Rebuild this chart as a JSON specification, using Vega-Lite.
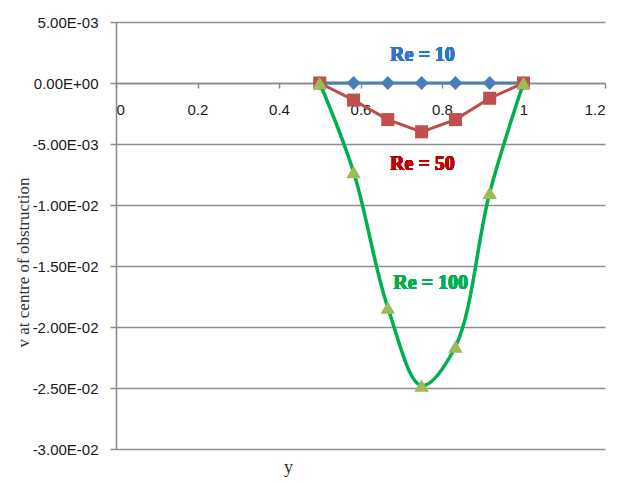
{
  "$schema": "https://vega.github.io/schema/vega-lite/v6.json",
  "autosize": "none",
  "width": 489,
  "height": 427,
  "padding": {"left": 116, "top": 22, "right": 19, "bottom": 34},
  "background": "white",
  "config": {
    "view": {"stroke": null},
    "axis": {
      "labelFont": "Liberation Sans",
      "labelFontSize": 15,
      "labelColor": "#1a1a1a",
      "domainColor": "#8a8a8a",
      "domainWidth": 1.5,
      "tickColor": "#8a8a8a",
      "tickWidth": 1.5,
      "gridColor": "#8e8e8e",
      "gridWidth": 1.4,
      "titleFont": "Liberation Serif",
      "titleFontWeight": "normal",
      "titleColor": "#333333"
    }
  },
  "data": {
    "values": [
      {"re": "10", "y": 0.5, "v": 0},
      {"re": "10", "y": 0.583, "v": 0},
      {"re": "10", "y": 0.667, "v": 0},
      {"re": "10", "y": 0.75, "v": 0},
      {"re": "10", "y": 0.833, "v": 0},
      {"re": "10", "y": 0.917, "v": 0},
      {"re": "10", "y": 1.0, "v": 0},
      {"re": "50", "y": 0.5, "v": 0},
      {"re": "50", "y": 0.583, "v": -0.0014},
      {"re": "50", "y": 0.667, "v": -0.0030},
      {"re": "50", "y": 0.75, "v": -0.0040},
      {"re": "50", "y": 0.833, "v": -0.0030},
      {"re": "50", "y": 0.917, "v": -0.00125},
      {"re": "50", "y": 1.0, "v": 0},
      {"re": "100", "y": 0.5, "v": 0},
      {"re": "100", "y": 0.583, "v": -0.0073},
      {"re": "100", "y": 0.667, "v": -0.0184},
      {"re": "100", "y": 0.75, "v": -0.0248},
      {"re": "100", "y": 0.833, "v": -0.0216},
      {"re": "100", "y": 0.917, "v": -0.0090},
      {"re": "100", "y": 1.0, "v": 0}
    ]
  },
  "encoding": {
    "x": {
      "field": "y",
      "type": "quantitative",
      "scale": {"domain": [0, 1.2], "nice": false, "zero": false},
      "axis": {
        "orient": "bottom",
        "offset": -366,
        "values": [0, 0.2, 0.4, 0.6, 0.8, 1, 1.2],
        "format": ".1~f",
        "grid": false,
        "tickSize": 5,
        "labelPadding": 14,
        "title": "y",
        "titleFontSize": 18,
        "titleX": 172,
        "titleY": 384,
        "titleBaseline": "middle",
        "titleAlign": "center"
      }
    },
    "y": {
      "field": "v",
      "type": "quantitative",
      "scale": {"domain": [-0.03, 0.005], "nice": false, "zero": false},
      "axis": {
        "values": [0.005, 0, -0.005, -0.01, -0.015, -0.02, -0.025, -0.03],
        "labelExpr": "replace(replace(replace(format(datum.value, '.2e'), 'e-', 'E-0'), 'e+', 'E+0'), '\u2212', '-')",
        "grid": true,
        "tickSize": 6,
        "labelPadding": 12,
        "title": "v at centre of obstruction",
        "titleFontSize": 17,
        "titleAngle": -90,
        "titleX": -93,
        "titleY": 240,
        "titleAlign": "center",
        "titleBaseline": "middle"
      }
    }
  },
  "layer": [
    {
      "transform": [{"filter": "datum.re == '10'"}],
      "mark": {"type": "line", "color": "#4A7EBB", "strokeWidth": 3}
    },
    {
      "transform": [{"filter": "datum.re == '10'"}],
      "mark": {"type": "point", "shape": "diamond", "filled": true, "color": "#4A7EBB", "opacity": 1, "size": 190}
    },
    {
      "transform": [{"filter": "datum.re == '50'"}],
      "mark": {"type": "line", "color": "#BE4B48", "strokeWidth": 3}
    },
    {
      "transform": [{"filter": "datum.re == '50'"}],
      "mark": {"type": "square", "color": "#C0504D", "opacity": 1, "size": 170}
    },
    {
      "transform": [{"filter": "datum.re == '100'"}],
      "mark": {"type": "line", "color": "#00B050", "strokeWidth": 3.5, "interpolate": "catmull-rom"}
    },
    {
      "transform": [{"filter": "datum.re == '100'"}],
      "mark": {"type": "point", "shape": "triangle-up", "filled": true, "color": "#9BBB59", "opacity": 1, "size": 210}
    },
    {
      "mark": {"type": "text", "text": "Re = 10", "font": "Liberation Serif", "fontSize": 20, "fontWeight": "bold", "color": "#2E75C8"},
      "encoding": {"x": {"datum": 0.752}, "y": {"datum": 0.0023}}
    },
    {
      "mark": {"type": "text", "text": "Re = 50", "font": "Liberation Serif", "fontSize": 20, "fontWeight": "bold", "color": "#C00000"},
      "encoding": {"x": {"datum": 0.752}, "y": {"datum": -0.0066}}
    },
    {
      "mark": {"type": "text", "text": "Re = 100", "font": "Liberation Serif", "fontSize": 20, "fontWeight": "bold", "color": "#00B050"},
      "encoding": {"x": {"datum": 0.772}, "y": {"datum": -0.0164}}
    }
  ]
}
